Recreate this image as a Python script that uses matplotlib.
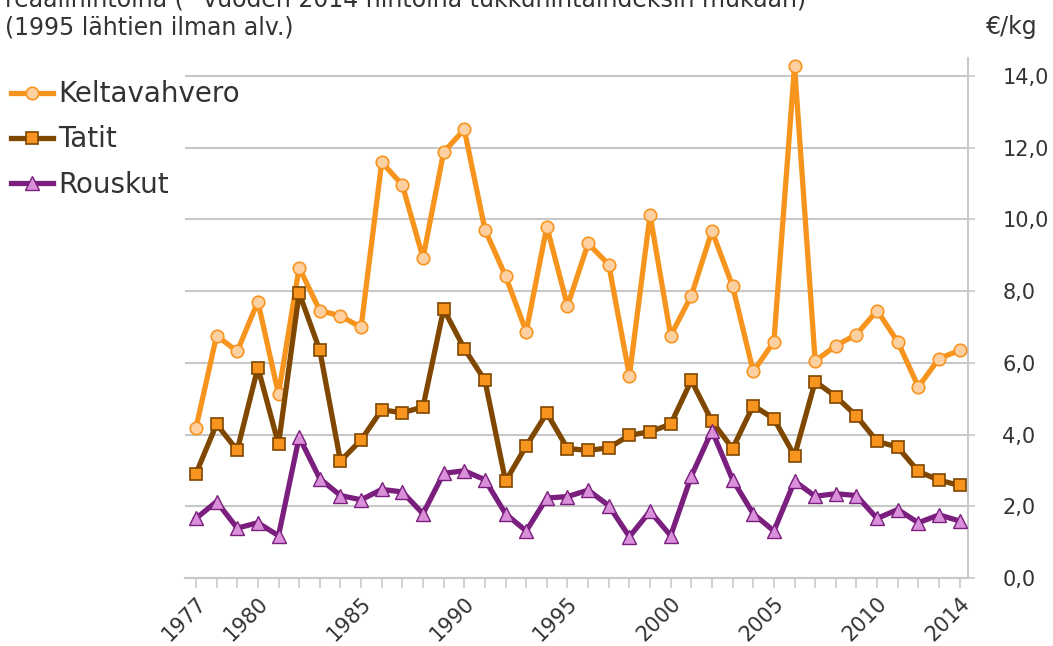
import matplotlib.pyplot as plt

years = list(range(1977, 2015))
keltavahvero = [4.18, 6.76, 6.32, 7.71, 5.13, 8.66, 7.46, 7.31, 6.99, 11.60,
                10.96, 8.93, 11.88, 12.51, 9.72, 8.42, 6.87, 9.80, 7.59, 9.33,
                8.74, 5.64, 10.13, 6.76, 7.87, 9.68, 8.14, 5.76, 6.59, 14.29,
                6.05, 6.48, 6.79, 7.46, 6.59, 5.33, 6.12, 6.35]
tatit = [2.91, 4.29, 3.56, 5.87, 3.73, 7.95, 6.35, 3.26, 3.85, 4.69,
         4.61, 4.77, 7.50, 6.40, 5.51, 2.70, 3.68, 4.60, 3.61, 3.56,
         3.63, 3.98, 4.08, 4.29, 5.51, 4.37, 3.61, 4.81, 4.44, 3.41,
         5.48, 5.06, 4.52, 3.81, 3.65, 2.97, 2.73, 2.58]
rouskut = [1.66, 2.13, 1.39, 1.54, 1.18, 3.93, 2.77, 2.30, 2.18, 2.47,
           2.40, 1.79, 2.92, 2.99, 2.74, 1.79, 1.31, 2.23, 2.27, 2.45,
           2.02, 1.15, 1.86, 1.18, 2.84, 4.11, 2.74, 1.79, 1.31, 2.70,
           2.28, 2.35, 2.30, 1.66, 1.91, 1.54, 1.76, 1.59]
labeled_years = [1977, 1980, 1985, 1990, 1995, 2000, 2005, 2010, 2014]
y_ticks = [0, 2, 4, 6, 8, 10, 12, 14]

text_col = '#333333'
grid_col = '#c8c8c8'

fig = plt.figure(figsize=(10.53, 6.46), dpi=100)
ax = fig.add_axes([0.1757, 0.1053, 0.919 - 0.1757, 0.910 - 0.1053])

ax.plot(years, keltavahvero, color='#F7941D', lw=3.8, marker='o', ms=9,
        mfc='#FDD0A2', mec='#F7941D', mew=1.2, label='Keltavahvero', zorder=3)
ax.plot(years, tatit, color='#7F4700', lw=3.8, marker='s', ms=8.5,
        mfc='#F7941D', mec='#7F4700', mew=1.2, label='Tatit', zorder=3)
ax.plot(years, rouskut, color='#7A1F7E', lw=3.8, marker='^', ms=10,
        mfc='#DA8FDA', mec='#7A1F7E', mew=1.0, label='Rouskut', zorder=3)

ax.set_xlim(1976.47, 2014.39)
ax.set_ylim(0, 14.5)
ax.set_xticks(years)
ax.set_xticklabels([str(y) if y in labeled_years else '' for y in years],
                   rotation=45, ha='right', rotation_mode='anchor',
                   fontsize=15, color=text_col)
ax.yaxis.tick_right()
ax.set_yticks(y_ticks)
ax.set_yticklabels([f'{v:.1f}'.replace('.', ',') for v in y_ticks],
                   fontsize=15, color=text_col)
ax.tick_params(axis='x', length=7, width=1.2, color=grid_col, pad=4)
ax.tick_params(axis='y', length=5, width=1.2, color=grid_col, pad=20)

ax.grid(axis='y', color=grid_col, lw=1.5)
ax.set_axisbelow(True)
for s in ['top', 'left']:
    ax.spines[s].set_visible(False)
for s in ['right', 'bottom']:
    ax.spines[s].set_color(grid_col)
    ax.spines[s].set_linewidth(1.5)

fig.legend(loc='upper left', bbox_to_anchor=(0.0, 0.893), frameon=False,
           fontsize=20, handlelength=1.5, handletextpad=0.2,
           labelspacing=0.62, borderaxespad=0.2, borderpad=0.2,
           labelcolor=text_col)

fig.text(0.005, 1.0, 'reaalihintoina (* vuoden 2014 hintoina tukkuhintaindeksin mukaan)',
         fontsize=17, color=text_col, va='center', ha='left')
fig.text(0.005, 0.958, '(1995 lähtien ilman alv.)', fontsize=17,
         color=text_col, va='center', ha='left')
fig.text(0.985, 0.958, '€/kg', fontsize=17, color=text_col,
         va='center', ha='right')

fig.savefig('out.png', dpi=100)
